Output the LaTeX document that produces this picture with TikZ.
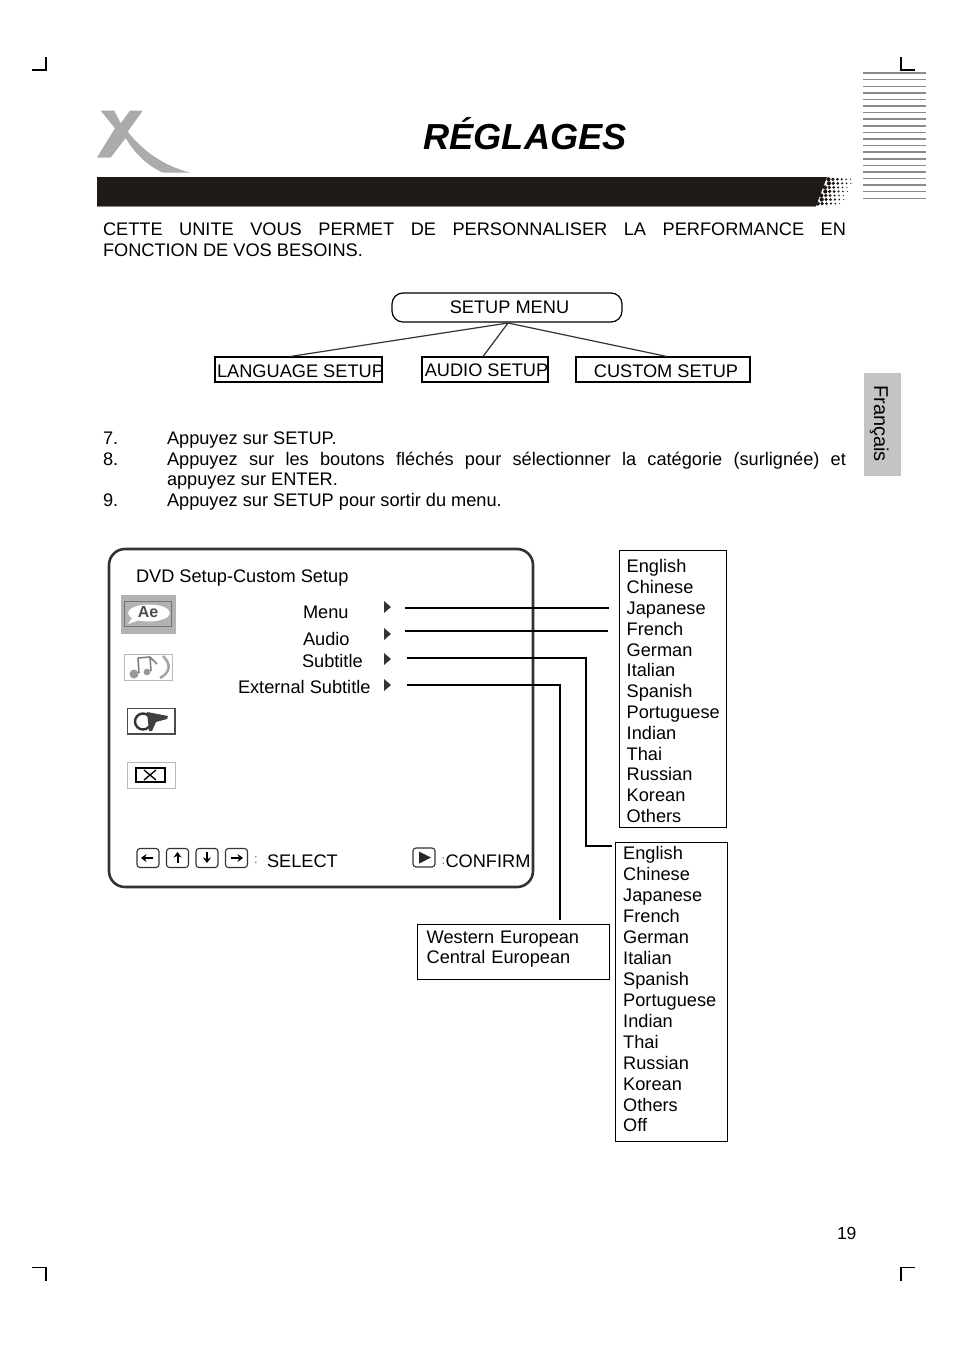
\documentclass[tikz,border=0pt]{standalone}
\usepackage{fontspec}
\setmainfont{Liberation Sans}
\usetikzlibrary{arrows.meta}
\definecolor{barblack}{HTML}{1F1A17}
\definecolor{logogray}{HTML}{ABABAB}
\definecolor{stripegray}{HTML}{8A8A8A}
\definecolor{framegray}{HTML}{333333}
\definecolor{tabgray}{HTML}{C4C4C4}
\tikzset{
  txt/.style={anchor=base west,inner sep=0,outer sep=0,font=\fontsize{18.2}{20.8}\selectfont,text=black},
  crop/.style={draw=black,line width=1.1},
  setupbox/.style={draw=black,line width=1.2,inner sep=0,font=\fontsize{18.2}{20.8}\selectfont,minimum height=25},
  listbox/.style={draw=black,line width=1.4,anchor=north west,align=left,inner ysep=0,font=\fontsize{18.2}{20.8}\selectfont},
  link/.style={draw=framegray,line width=1.2},
  conn/.style={draw=black,line width=1.9},
  key/.style={draw=framegray,line width=1.1,rounded corners=3,minimum width=22,minimum height=19,inner sep=0},
  keyarrow/.style={line width=2,black,-{Stealth[length=5.5,width=8]}},
  tri/.style={fill=framegray,draw=none},
  icon/.style={draw=gray!55,line width=1,fill=white}
}
\begin{document}
\begin{tikzpicture}[x=1pt,y=-1pt]
\useasboundingbox (0,0) rectangle (954,1352);
\fill[white] (0,0) rectangle (954,1352);
% crop marks
\draw[crop] (32,70)--(46,70)--(46,57);
\draw[crop] (901,57)--(901,70)--(915,70);
\draw[crop] (32,1267.5)--(46,1267.5)--(46,1281);
\draw[crop] (901,1281)--(901,1267.5)--(915,1267.5);
% stripes
\foreach \y in {72.7,93,106,119,126,139,152,159,172,185}
  \fill[stripegray] (863,\y-1) rectangle (926,\y+1);
\foreach \y in {79.5,86.5,99.5,112,132.5,145.5,165,178,191.5,198}
  \fill[stripegray] (863,\y-.5) rectangle (926,\y+.5);
% logo
\fill[logogray] (100.7,110.7)--(114.3,110.7)--(120.7,123.3)--(130,110.7)--(142.7,110.7)--(127.7,131.7)
  .. controls (142,150) and (163,166) .. (190.7,172.7)
  -- (163,172.7) .. controls (148,166) and (135,154) .. (125.7,138)
  -- (110.7,157.5)--(97,157.5)--(115,128.3)--cycle;
\node[txt,font=\fontsize{36.2}{40}\selectfont\bfseries\itshape] (title) at (423.5,149) {RÉGLAGES};
% bar
\fill[barblack] (97,177)--(827,177)--(816,206)--(97,206)--cycle;
\draw[stripegray,line width=.6] (97,206)--(816,206);
\foreach \r in {0,...,6}{
  \foreach \i in {0,...,5}{
    \pgfmathsetmacro\xx{828.5-1.8*\r+4.4*\i+2.2*mod(\r,2)}
    \pgfmathsetmacro\yy{179.3+4.05*\r}
    \pgfmathsetmacro\rr{2.1-.3*\i}
    \fill[barblack] (\xx,\yy) circle (\rr);
  }
}
% intro
\node[txt] (intro1) at (103,235) {\makebox[743pt][s]{CETTE UNITE VOUS PERMET DE PERSONNALISER LA PERFORMANCE EN}};
\node[txt] (intro2) at (103,256) {FONCTION DE VOS BESOINS.};
% setup tree
\node[setupbox,rounded corners=11,minimum width=230,minimum height=29] (menu) at (507,307.5) {\hspace{5pt}SETUP MENU};
\node[setupbox,minimum width=167,text height=16,text depth=0] (lang) at (298.5,369.5) {\makebox[0pt]{\hspace{4pt}LANGUAGE SETUP}};
\node[setupbox,minimum width=126,text height=14,text depth=0] (audio) at (485,369.5) {\makebox[0pt]{\hspace{3pt}AUDIO SETUP}};
\node[setupbox,minimum width=174,text height=16,text depth=0] (custom) at (663,369.5) {\makebox[0pt]{\hspace{6pt}CUSTOM SETUP}};
\coordinate (apex) at (508,323);
\coordinate (langtop) at (290,356.5);
\coordinate (audiotop) at (483,356.5);
\coordinate (customtop) at (667,356.5);
\draw[link] (langtop)--(apex)--(customtop);
\draw[link] (apex)--(audiotop);
% steps
\node[txt] (n7) at (103,444) {7.};
\node[txt] (s7) at (167,444) {Appuyez sur SETUP.};
\node[txt] (n8) at (103,465) {8.};
\node[txt] (s8) at (167,465) {\makebox[679pt][s]{Appuyez sur les boutons fléchés pour sélectionner la catégorie (surlignée) et}};
\node[txt] (s8b) at (167,485.5) {appuyez sur ENTER.};
\node[txt] (n9) at (103,506.5) {9.};
\node[txt] (s9) at (167,506.5) {Appuyez sur SETUP pour sortir du menu.};
% French tab
\fill[tabgray] (863.5,373) rectangle (901,476);
\node[anchor=base west,inner sep=0,rotate=-90,font=\fontsize{20}{22}\selectfont] (fr) at (874,385) {Français};
% screen frame
\draw[framegray,line width=2.6,rounded corners=16] (109,549) rectangle (533,887);
\node[txt] (dvd) at (136,582) {DVD Setup-Custom Setup};
\node[txt] (rmenu) at (303,618) {Menu};
\node[txt] (raudio) at (303,645) {Audio};
\node[txt] (rsub) at (302,667) {Subtitle};
\node[txt] (rext) at (238,693) {External Subtitle};
\fill[tri] (384,601)--(391,607)--(384,613)--cycle;
\fill[tri] (384,628)--(391,634)--(384,640)--cycle;
\fill[tri] (384,653)--(391,659)--(384,665)--cycle;
\fill[tri] (384,679)--(391,685)--(384,691)--cycle;
% icon 1
\fill[gray!60] (121,595) rectangle (176,634);
\draw[gray!90!black,line width=1] (124,601) rectangle (171,626);
\fill[white] (149,613) ellipse (21 and 8.5);
\fill[white] (134,615)--(128,624)--(142,619)--cycle;
\node[inner sep=0,font=\fontsize{16}{16}\selectfont\bfseries,text=black!70] (ae) at (148,612.5) {Ae};
% icon 2
\draw[icon] (124,654) rectangle (172,680);
\draw[gray,line width=1.6] (138,658)--(139,673) (150,657)--(151,671) (138,658)--(150,657) (150,657)--(157,664);
\fill[gray!80] (134,674) circle (4.5) (147,672) circle (3.4);
\draw[gray!70,line width=2.6] (163,656) .. controls (171,664) and (171,672) .. (160,678);
% icon 3
\draw[black!70,line width=1.4,fill=white] (127.5,708.5) rectangle (175,734);
\draw[black!80,line width=2.4] (143,721.5) circle (8);
\fill[black!75] (147,712)--(168,716)--(167,719)--(156,722)--(152,731)--(149,731)--cycle;
% icon 4
\draw[icon] (127,762) rectangle (175,788);
\draw[black,line width=1.2] (136,768) rectangle (165,782);
\draw[black,line width=1.3] (144,770)--(156,780) (156,770)--(144,780);
% keys
\node[key] (kleft) at (148,858) {};
\node[key] (kup) at (177.5,858) {};
\node[key] (kdown) at (207,858) {};
\node[key] (kright) at (236.5,858) {};
\draw[keyarrow] (153,858)--(141,858);
\draw[keyarrow] (177.5,863)--(177.5,852);
\draw[keyarrow] (207,852)--(207,863);
\draw[keyarrow] (231,858)--(243,858);
\node[txt,text=black!60,font=\fontsize{13}{13}\selectfont] (colon1) at (254,863) {:};
\node[txt] (select) at (267,867) {SELECT};
\node[key] (kplay) at (424,857.5) {};
\fill[black!85] (419,851.5)--(431,857.5)--(419,863.5)--cycle;
\node[txt,text=black!60,font=\fontsize{13}{13}\selectfont] (colon2) at (441.5,864) {:};
\node[txt] (confirm) at (445.5,867) {CONFIRM};
% lists
\node[listbox,text width=93,inner xsep=7,minimum height=277] (list1) at (619,550)
  {\rule{0pt}{17pt}English\\Chinese\\Japanese\\French\\German\\Italian\\Spanish\\Portuguese\\Indian\\Thai\\Russian\\Korean\\Others};
\node[listbox,text width=97,inner xsep=7.5,minimum height=299,font=\fontsize{18.2}{20.95}\selectfont] (list2) at (615,842)
  {English\\Chinese\\Japanese\\French\\German\\Italian\\Spanish\\Portuguese\\Indian\\Thai\\Russian\\Korean\\Others\\Off\rule[-6pt]{0pt}{6pt}};
\node[listbox,text width=174,inner xsep=9,minimum height=55] (list3) at (417,924)
  {Western European\\Central European\rule[-10pt]{0pt}{10pt}};
% connectors
\coordinate (c1a) at (405,608); \coordinate (c1b) at (609,608);
\coordinate (c2a) at (405,631); \coordinate (c2b) at (608,631);
\coordinate (c3a) at (407,658); \coordinate (c3m) at (586,658); \coordinate (c3b) at (612,846);
\coordinate (c4a) at (407,685); \coordinate (c4b) at (560,920);
\draw[conn] (c1a)--(c1b);
\draw[conn] (c2a)--(c2b);
\draw[conn] (c3a)-|(c3m)|-(c3b);
\draw[conn] (c4a)-|(c4b);
\node[txt,font=\fontsize{17.5}{20}\selectfont] (page) at (837,1239) {19};
\end{tikzpicture}
\end{document}
